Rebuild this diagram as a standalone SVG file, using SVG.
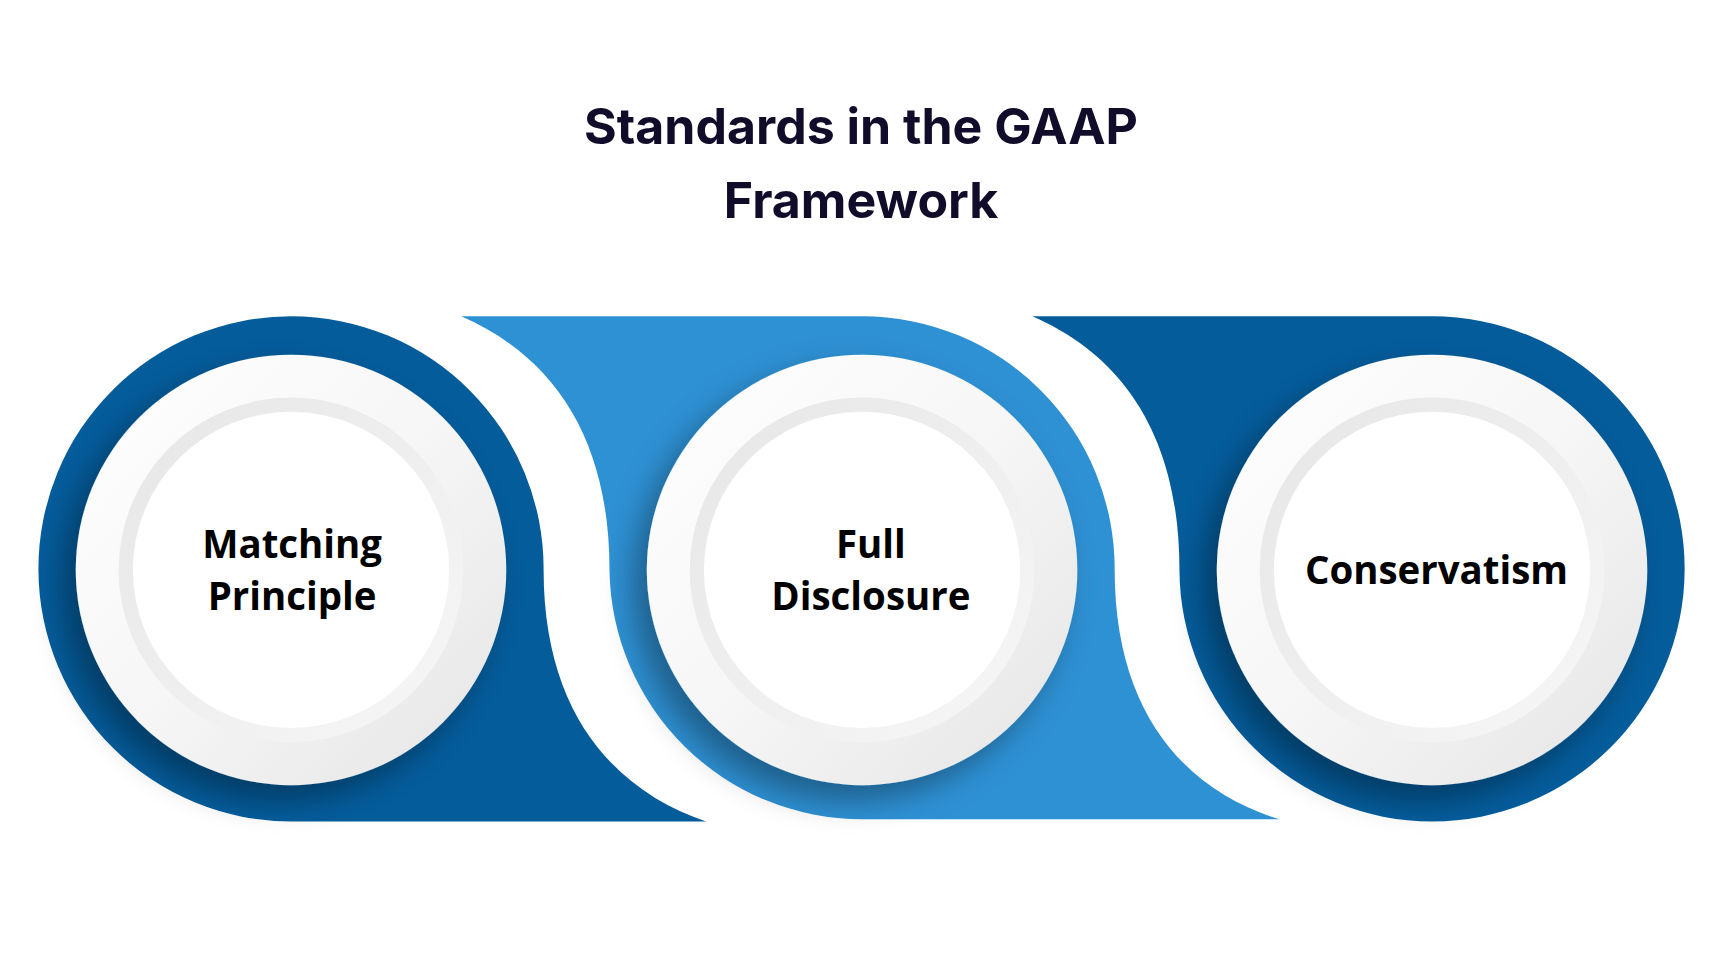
<svg xmlns="http://www.w3.org/2000/svg" width="1722" height="970" viewBox="0 0 1722 970">
<defs>
<style>
.t{font-family:Inter,"Liberation Sans",sans-serif;font-weight:700;font-size:50px;fill:#110C2A;text-anchor:middle}
.l{font-family:"Open Sans","Liberation Sans",sans-serif;font-weight:700;font-size:35px;fill:#000;text-anchor:middle}
.dk{fill:#045C9B}.lt{fill:#2E91D4}
</style>
<linearGradient id="g1" x1="0" y1="0" x2="1" y2="1"><stop offset="0" stop-color="#ffffff"/><stop offset="0.5" stop-color="#f6f6f6"/><stop offset="1" stop-color="#e4e4e4"/></linearGradient>
<linearGradient id="g2" x1="1" y1="1" x2="0" y2="0"><stop offset="0" stop-color="#f7f7f7"/><stop offset="1" stop-color="#e6e6e6"/></linearGradient>
<filter id="sh" x="-30%" y="-30%" width="160%" height="160%"><feDropShadow dx="-12" dy="14" stdDeviation="14" flood-color="#000" flood-opacity="0.35"/></filter>
<g id="disc">
<circle r="196" fill="url(#g1)" filter="url(#sh)"/>
<circle r="157" fill="url(#g2)"/>
<circle r="144" fill="#fff"/>
</g>
</defs>
<rect width="1722" height="970" fill="#fff"/>
<g id="title"><text class="t" x="861" y="144">Standards in the GAAP</text><text class="t" x="861" y="218">Framework</text></g>
<g transform="scale(1.0982)">
<g id="connectors">
<path class="dk" d="M265,288 A230,230 0 0 1 495,519 C495,650 560,720 643,748 L265,748 A230,230 0 0 1 35,519 A230,230 0 0 1 265,288 Z"/>
<path class="lt" d="M420,288 L785,288 A230,230 0 0 1 1015,519 C1015,650 1080,720 1165,746 L785,746 A230,230 0 0 1 555,519 C555,400 505,325 420,288 Z"/>
<path class="dk" d="M940,288 L1304,288 A230,230 0 0 1 1534,519 A230,230 0 0 1 1304,748 A230,230 0 0 1 1074,519 C1074,400 1025,325 940,288 Z"/>
</g>
<g id="n1"><use href="#disc" x="265" y="519"/><text class="l" x="266" y="508">Matching</text><text class="l" x="266" y="555">Principle</text></g>
<g id="n2"><use href="#disc" x="785" y="519"/><text class="l" x="793" y="508">Full</text><text class="l" x="793" y="555">Disclosure</text></g>
<g id="n3"><use href="#disc" x="1304" y="519"/><text class="l" x="1308" y="532">Conservatism</text></g>
</g>
</svg>
